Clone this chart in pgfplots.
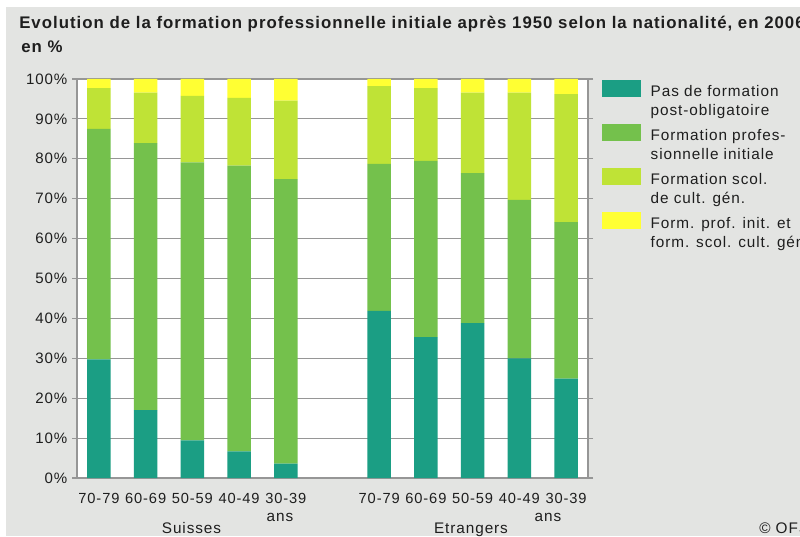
\documentclass[border=0pt]{standalone}
\usepackage{pgfplots}
\pgfplotsset{compat=1.18}
\usepackage{fontspec}
\setmainfont{Liberation Sans}[LetterSpace=6]
\definecolor{cTeal}{HTML}{1B9E84}
\definecolor{cGreen}{HTML}{74C14C}
\definecolor{cLime}{HTML}{BFE336}
\definecolor{cYellow}{HTML}{FFFF33}
\definecolor{bgGray}{HTML}{E3E4E2}
\definecolor{gridGray}{HTML}{969696}
\definecolor{txt}{HTML}{1E1E1E}
\pgfplotsset{legsw/.style={legend image code/.code={\fill[##1] (0pt,2.2pt) rectangle (28.8pt,15.1pt);}}}
\begin{document}
\begin{tikzpicture}[x=0.75pt,y=0.75pt]
\path[use as bounding box] (0,0) rectangle (800,536);
\fill[white] (0,0) rectangle (800,536);
\fill[bgGray] (6,0) rectangle (800,529);
\node[anchor=base west, inner sep=0pt, text=txt, font=\fontsize{12.6}{14}\selectfont\bfseries] at (19,507) {Evolution de la formation professionnelle initiale après 1950 selon la nationalité, en 2006};
\node[anchor=base west, inner sep=0pt, text=txt, font=\fontsize{12.6}{14}\selectfont\bfseries] at (21,483.5) {en \%};
\begin{axis}[at={(57.75pt,43.5pt)}, anchor=south west,
  scale only axis, width=383.25pt, height=299.25pt,
  xmin=-0.47, xmax=10.47, ymin=0, ymax=100, enlargelimits=false,
  ybar stacked, bar width=17.6pt,
  xtick={0,1,2,3,4,6,7,8,9,10},
  xticklabels={70-79,60-69,50-59,40-49,30-39,70-79,60-69,50-59,40-49,30-39},
  ytick={0,10,20,30,40,50,60,70,80,90,100},
  yticklabels={0\%,10\%,20\%,30\%,40\%,50\%,60\%,70\%,80\%,90\%,100\%},
  ymajorgrids, grid style={gridGray, line width=0.9pt},
  axis line style={gridGray, line width=0.9pt},
  tick align=outside, major tick length=3.75pt,
  ytick style={gridGray, line width=0.9pt},
  xtick style={draw=none},
  x tick label style={font=\fontsize{11}{13}\selectfont, text=txt, yshift=-4pt},
  y tick label style={font=\fontsize{11.3}{13}\selectfont, text=txt},
  axis background/.style={fill=white},
  legend style={at={(1.0274,0.9983)}, anchor=north west, draw=none, fill=none,
    inner sep=0pt, column sep=7.5pt, row sep=4.8pt,
    font=\fontsize{11.5}{14.6}\selectfont, text=txt,
    nodes={inner sep=0pt, align=left}, cells={anchor=west}},
]
\addplot[fill=cTeal, draw=none, legsw] coordinates {(0,29.7)(1,17.0)(2,9.4)(3,6.7)(4,3.6)(6,41.9)(7,35.3)(8,38.8)(9,30.0)(10,24.9)};
\addlegendentry{\strut Pas de formation\\post-obligatoire\strut}
\addplot[fill=cGreen, draw=none, legsw] coordinates {(0,57.8)(1,66.9)(2,69.7)(3,71.6)(4,71.3)(6,36.8)(7,44.2)(8,37.6)(9,39.7)(10,39.2)};
\addlegendentry{\strut Formation profes-\\sionnelle initiale\strut}
\addplot[fill=cLime, draw=none, legsw] coordinates {(0,10.2)(1,12.7)(2,16.7)(3,17.0)(4,19.7)(6,19.5)(7,18.2)(8,20.2)(9,26.9)(10,32.1)};
\addlegendentry{\strut Formation scol.\\de cult. gén.\strut}
\addplot[fill=cYellow, draw=none, legsw] coordinates {(0,2.3)(1,3.4)(2,4.2)(3,4.7)(4,5.4)(6,1.8)(7,2.3)(8,3.4)(9,3.4)(10,3.8)};
\addlegendentry{\strut Form. prof. init. et\\form. scol. cult. gén.\strut}
\end{axis}
\begin{scope}[every node/.style={text=txt, font=\fontsize{11.5}{13}\selectfont, inner sep=0pt}]
\node[anchor=base] at (191.5,2.5) {Suisses};
\node[anchor=base] at (471,2.5) {Etrangers};
\node[anchor=base] at (280,14.3) {ans};
\node[anchor=base] at (548,14.3) {ans};
\node[anchor=base west] at (759,2.5) {© OFS};
\end{scope}
\end{tikzpicture}
\end{document}
